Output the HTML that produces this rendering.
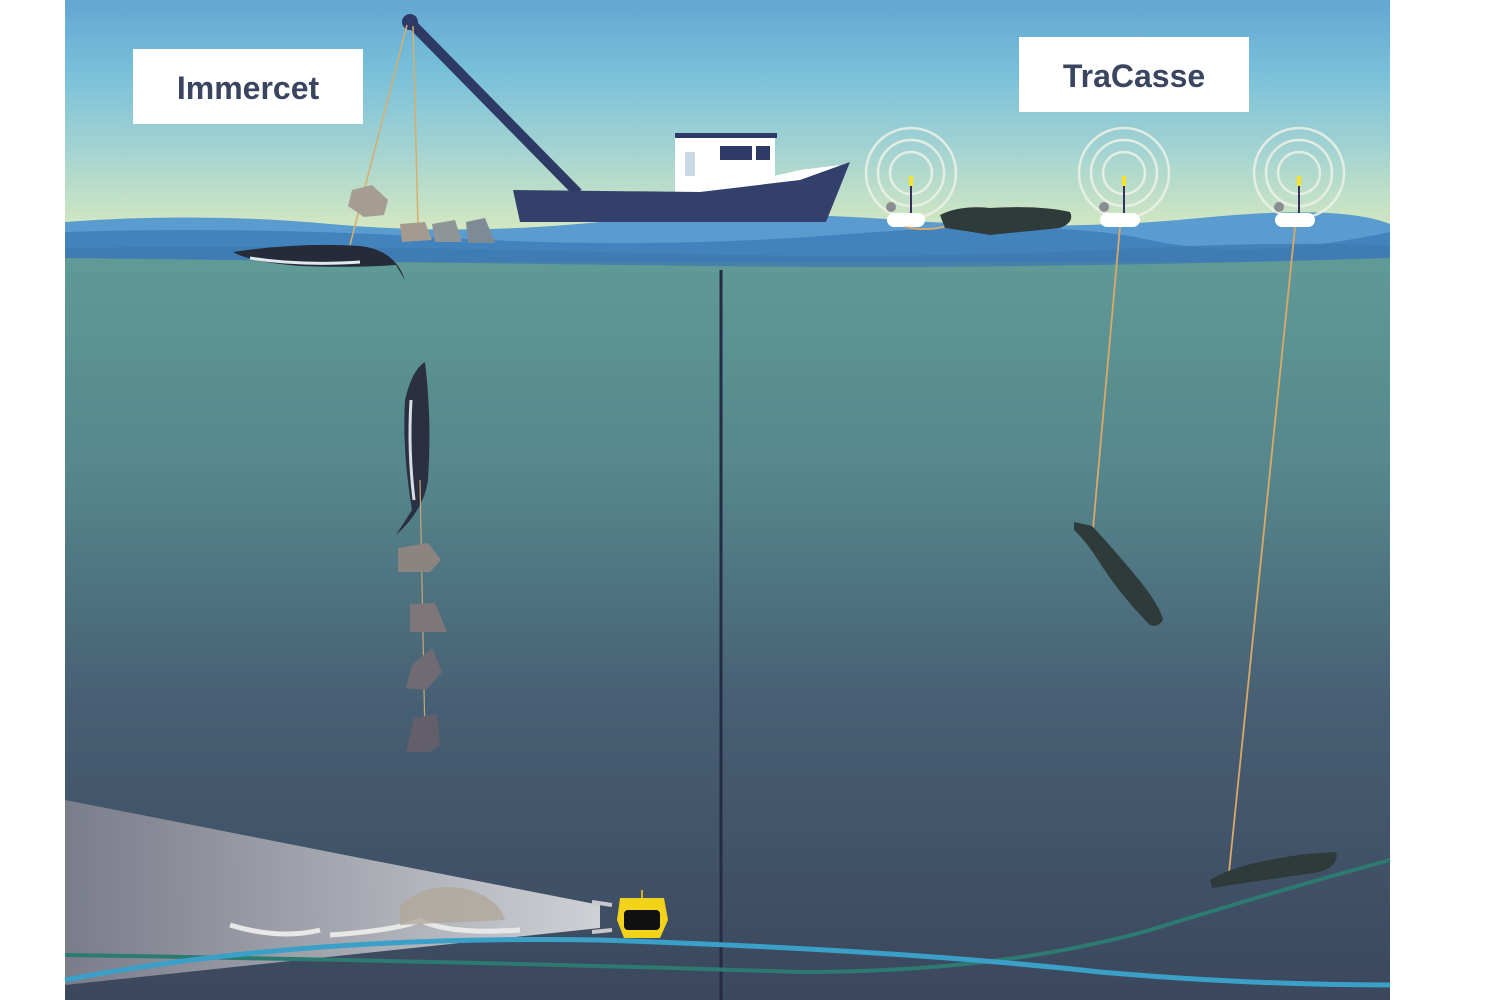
<!DOCTYPE html>
<html><head><meta charset="utf-8"><style>
html,body{margin:0;padding:0;background:#fff;width:1500px;height:1000px;overflow:hidden}
svg{display:block}
</style></head><body>
<svg width="1500" height="1000" viewBox="0 0 1500 1000" xmlns="http://www.w3.org/2000/svg">
<defs>
<linearGradient id="sky" x1="0" y1="0" x2="0" y2="1">
<stop offset="0" stop-color="#63a6d2"/>
<stop offset="0.3" stop-color="#77bfd9"/>
<stop offset="0.65" stop-color="#a3d3d2"/>
<stop offset="1" stop-color="#d4e8c0"/>
</linearGradient>
<linearGradient id="sea" x1="0" y1="0" x2="0" y2="1">
<stop offset="0" stop-color="#5f9a97"/>
<stop offset="0.3" stop-color="#55868c"/>
<stop offset="0.6" stop-color="#475f74"/>
<stop offset="1" stop-color="#3b475d"/>
</linearGradient>
<linearGradient id="cone" x1="0" y1="0" x2="1" y2="0">
<stop offset="0" stop-color="#7d7f8c"/>
<stop offset="1" stop-color="#d5d7da"/>
</linearGradient>
</defs>
<rect x="65" y="0" width="1325" height="230" fill="url(#sky)"/>
<rect x="65" y="255" width="1325" height="745" fill="url(#sea)"/>
<!-- surface -->
<path d="M65 222 Q200 212 330 224 T600 222 T900 220 T1200 218 T1390 224 L1390 262 L65 262 Z" fill="#5a9bd0"/>
<path d="M65 232 Q250 226 450 238 T850 234 T1150 240 T1390 232 L1390 262 L65 262 Z" fill="#4383bd"/>
<path d="M65 248 Q300 244 600 252 T1100 250 T1390 246 L1390 268 L65 268 Z" fill="#3f7bb0" opacity="0.8"/>
<path d="M65 258 Q400 262 700 266 T1390 258 L1390 272 L65 272 Z" fill="#5f9a97"/>
<!-- vertical divider -->
<line x1="721" y1="270" x2="721" y2="1000" stroke="#262b44" stroke-width="3"/>
<!-- crane -->
<line x1="410" y1="22" x2="578" y2="193" stroke="#2d3a66" stroke-width="10"/>
<circle cx="410" cy="22" r="8" fill="#2d3a66"/>
<path d="M407 25 L350 245 M413 26 L418 225" stroke="#d7ae6e" stroke-width="1.5" fill="none"/>
<!-- boat -->
<rect x="675" y="136" width="100" height="56" fill="#fff"/>
<rect x="675" y="133" width="102" height="5" fill="#2d3a66"/>
<rect x="720" y="146" width="32" height="14" fill="#2d3a66"/><rect x="756" y="146" width="14" height="14" fill="#2d3a66"/>
<rect x="685" y="152" width="10" height="24" fill="#c8d8e4"/>
<path d="M705 192 L800 170 L840 165 L805 192 Z" fill="#fff"/>
<path d="M513 190 L700 192 L800 180 L850 162 L826 222 L520 222 Z" fill="#33406c"/>
<!-- rocks near surface -->
<path d="M352 190 L372 185 L388 200 L384 215 L364 217 L348 206 Z" fill="#a59d91"/>
<path d="M400 224 L425 222 L432 240 L402 242 Z" fill="#a39b8f"/>
<path d="M432 224 L455 220 L462 242 L435 242 Z" fill="#8f9596"/>
<path d="M466 222 L485 218 L495 243 L468 243 Z" fill="#7f8b94"/>
<!-- minke whale at surface -->
<path d="M233 252 Q300 242 360 246 Q395 250 405 280 L396 265 Q360 268 300 266 Q250 262 233 252 Z" fill="#262b3a"/>
<path d="M250 258 Q300 266 360 262" stroke="#e4e8ee" stroke-width="3" fill="none"/>
<!-- vertical minke -->
<path d="M425 362 Q432 420 428 480 Q424 510 396 535 L412 510 Q402 450 405 400 Q412 370 425 362 Z" fill="#2a2f42"/>
<path d="M411 400 Q408 450 414 500" stroke="#d9dde4" stroke-width="3" fill="none"/>
<line x1="420" y1="480" x2="425" y2="740" stroke="#c7a774" stroke-width="1.2"/>
<!-- hanging rocks -->
<path d="M398 548 L428 543 L441 560 L430 572 L398 572 Z" fill="#8c8480"/>
<path d="M410 604 L435 603 L447 632 L410 632 Z" fill="#7d777a"/>
<path d="M412 665 L432 648 L442 672 L426 690 L406 688 Z" fill="#706b73"/>
<path d="M414 718 L437 714 L440 745 L430 752 L406 752 Z" fill="#625f6b"/>
<!-- light cone -->
<path d="M65 800 L600 905 L600 928 L65 985 Z" fill="url(#cone)" opacity="0.95"/>
<path d="M230 925 Q280 940 320 930 M330 935 Q400 930 420 920 Q450 935 520 930" stroke="#e8e8e8" stroke-width="5" fill="none"/>
<path d="M400 905 Q430 880 470 890 Q500 900 505 920 L400 925 Z" fill="#b0a79a" opacity="0.8"/>
<!-- sea floor lines -->
<path d="M65 955 Q500 962 800 972 Q1000 972 1150 930 Q1280 890 1390 860" stroke="#2d7a70" stroke-width="4" fill="none"/>
<path d="M65 980 Q300 935 600 940 Q900 950 1100 972 Q1250 985 1390 985" stroke="#3aa0c8" stroke-width="5" fill="none"/>
<!-- robot -->
<path d="M620 898 L664 898 L668 920 L660 938 L624 938 L617 920 Z" fill="#f2d21a"/>
<rect x="624" y="910" width="36" height="20" rx="4" fill="#111"/>
<line x1="642" y1="890" x2="642" y2="898" stroke="#d8b020" stroke-width="2"/>
<path d="M612 905 L592 902 M612 930 L592 932" stroke="#c8c8cc" stroke-width="4"/>
<!-- buoys -->
<g fill="none" stroke="#eef2e8" stroke-width="2.5" opacity="0.85">
<circle cx="911" cy="173" r="45"/><circle cx="911" cy="173" r="33"/><circle cx="911" cy="173" r="21"/>
<circle cx="1124" cy="173" r="45"/><circle cx="1124" cy="173" r="33"/><circle cx="1124" cy="173" r="21"/>
<circle cx="1299" cy="173" r="45"/><circle cx="1299" cy="173" r="33"/><circle cx="1299" cy="173" r="21"/>
</g>
<g>
<line x1="911" y1="185" x2="911" y2="214" stroke="#3a3060" stroke-width="2"/><rect x="909" y="176" width="4" height="10" fill="#f3e32a"/>
<rect x="887" y="213" width="38" height="14" rx="7" fill="#fff"/><circle cx="891" cy="207" r="5" fill="#8a8e90"/>
<line x1="1124" y1="185" x2="1124" y2="214" stroke="#3a3060" stroke-width="2"/><rect x="1122" y="176" width="4" height="10" fill="#f3e32a"/>
<rect x="1100" y="213" width="40" height="14" rx="7" fill="#fff"/><circle cx="1104" cy="207" r="5" fill="#8a8e90"/>
<line x1="1299" y1="185" x2="1299" y2="214" stroke="#3a3060" stroke-width="2"/><rect x="1297" y="176" width="4" height="10" fill="#f3e32a"/>
<rect x="1275" y="213" width="40" height="14" rx="7" fill="#fff"/><circle cx="1279" cy="207" r="5" fill="#8a8e90"/>
</g>
<!-- ropes -->
<path d="M1120 227 L1092 540" stroke="#d9a967" stroke-width="1.8"/>
<path d="M1295 227 L1228 882" stroke="#d9a967" stroke-width="1.8"/>
<path d="M905 227 Q930 232 950 225" stroke="#d9a967" stroke-width="1.8" fill="none"/>
<!-- sperm whales -->
<path d="M940 215 Q960 205 990 208 Q1040 205 1070 212 Q1075 222 1060 228 Q1020 232 990 235 Q960 230 945 228 Z" fill="#2f3a3a"/>
<path d="M1074 522 L1092 526 Q1110 545 1135 575 Q1160 605 1163 620 Q1158 628 1150 625 Q1120 595 1098 560 Q1085 540 1074 530 Z" fill="#2f3a3a"/>
<path d="M1210 880 Q1230 868 1260 862 Q1300 853 1336 852 Q1340 865 1320 872 Q1280 878 1250 882 Q1225 886 1212 888 Z" fill="#2f3a3a"/>
<!-- labels -->
<rect x="133" y="49" width="230" height="75" fill="#fff"/>
<text x="248" y="99" text-anchor="middle" font-family="Liberation Sans, sans-serif" font-weight="bold" font-size="32" fill="#3a4560">Immercet</text>
<rect x="1019" y="37" width="230" height="75" fill="#fff"/>
<text x="1134" y="87" text-anchor="middle" font-family="Liberation Sans, sans-serif" font-weight="bold" font-size="32" fill="#3a4560">TraCasse</text>
</svg>
</body></html>
